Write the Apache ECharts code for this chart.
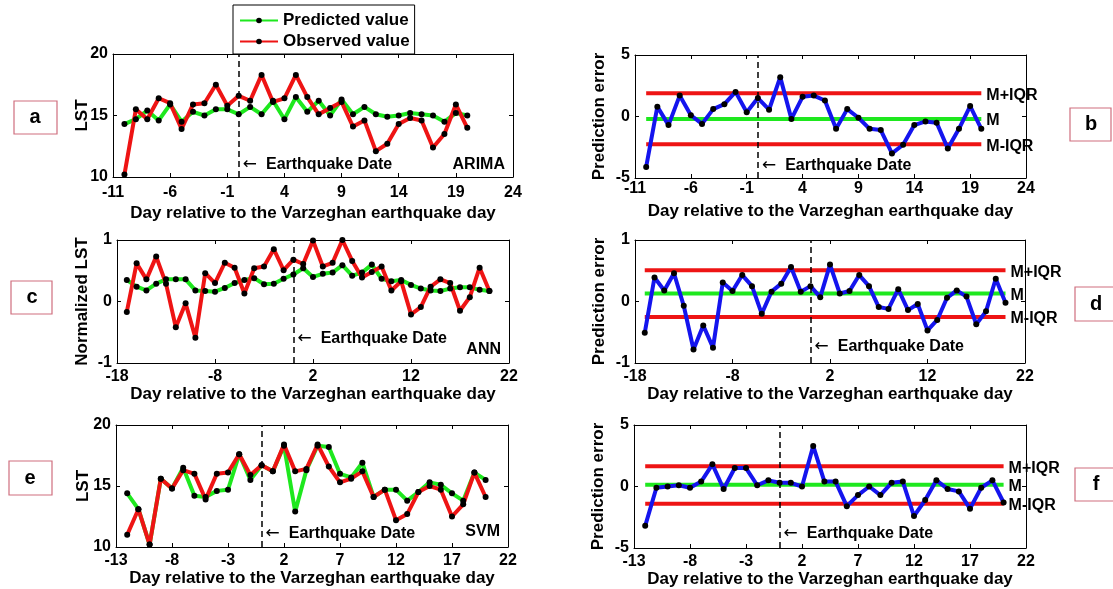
<!DOCTYPE html>
<html>
<head>
<meta charset="utf-8">
<title>LST prediction - Varzeghan earthquake</title>
<script src="https://cdn.jsdelivr.net/npm/echarts@6/dist/echarts.min.js"></script>
<style>
html,body{margin:0;padding:0;background:#fff;}
#echartor{width:1113px;height:589px;}
</style>
</head>
<body>
<div id="echartor"></div>
<script>
// ---- data ----
// a / b : ARIMA
var aDays = [-10,-9,-8,-7,-6,-5,-4,-3,-2,-1,0,1,2,3,4,5,6,7,8,9,10,11,12,13,14,15,16,17,18,19,20];
var aPred = [14.3,14.7,15.4,14.6,15.9,14.5,15.3,15.0,15.5,15.5,15.1,15.7,15.1,16.2,14.7,16.5,15.3,16.2,15.0,16.3,15.1,15.7,15.1,14.9,15.0,15.2,15.1,15.0,14.5,15.2,15.0];
var aObs  = [10.2,15.5,14.7,16.4,16.0,13.9,15.9,16.0,17.5,15.8,16.6,16.2,18.3,16.1,16.4,18.3,16.5,15.1,15.6,16.1,14.1,14.6,12.1,12.7,14.3,14.8,14.6,12.4,13.5,15.9,14.0];
var bErr  = [-4.1,0.8,-0.7,1.7,0.1,-0.6,0.6,1.0,2.0,0.35,1.5,0.55,3.2,-0.2,1.6,1.7,1.3,-1.0,0.6,-0.1,-1.0,-1.1,-3.0,-2.3,-0.7,-0.4,-0.5,-2.6,-1.0,0.85,-1.0];
var bBands = [1.9,-0.2,-2.25];   // M+IQR, M, M-IQR

// c / d : ANN
var cDays = [-17,-16,-15,-14,-13,-12,-11,-10,-9,-8,-7,-6,-5,-4,-3,-2,-1,0,1,2,3,4,5,6,7,8,9,10,11,12,13,14,15,16,17,18,19,20];
var cPred = [0.35,0.24,0.18,0.29,0.36,0.36,0.36,0.18,0.17,0.16,0.22,0.30,0.35,0.38,0.28,0.29,0.37,0.44,0.54,0.40,0.45,0.47,0.59,0.42,0.47,0.60,0.37,0.33,0.35,0.27,0.21,0.18,0.17,0.21,0.23,0.23,0.19,0.17];
var cObs  = [-0.17,0.62,0.36,0.73,0.29,-0.42,-0.03,-0.59,0.46,0.30,0.63,0.55,0.13,0.54,0.57,0.85,0.51,0.68,0.61,0.99,0.57,0.63,1.0,0.66,0.39,0.48,0.57,0.18,0.33,-0.21,-0.09,0.24,0.36,0.30,-0.15,0.07,0.55,0.17];
var dErr  = [-0.51,0.39,0.18,0.46,-0.07,-0.78,-0.39,-0.75,0.31,0.17,0.43,0.25,-0.2,0.16,0.29,0.56,0.16,0.25,0.07,0.6,0.13,0.17,0.43,0.25,-0.09,-0.12,0.2,-0.14,-0.04,-0.47,-0.3,0.06,0.18,0.08,-0.37,-0.16,0.37,-0.02];
var dBands = [0.51,0.13,-0.25];

// e / f : SVM
var eDays = [-12,-11,-10,-9,-8,-7,-6,-5,-4,-3,-2,-1,0,1,2,3,4,5,6,7,8,9,10,11,12,13,14,15,16,17,18,19,20];
var ePred = [14.4,13.1,10.2,15.6,14.8,16.5,14.2,14.1,14.6,14.7,17.6,15.5,16.7,16.2,18.3,12.9,16.3,18.3,18.2,16.0,15.7,16.9,14.1,14.7,14.7,13.8,14.5,15.3,15.1,14.4,13.8,16.1,15.5];
var eObs  = [11.0,13.1,10.2,15.6,14.8,16.3,16.0,13.9,16.0,16.1,17.6,15.9,16.7,16.2,18.4,16.2,16.4,18.4,16.6,15.3,15.6,16.2,14.1,14.7,12.2,12.7,14.5,15.0,14.7,12.5,13.5,16.1,14.1];
var fErr  = [-3.2,-0.1,0.0,0.1,-0.1,0.4,1.8,-0.2,1.5,1.5,0.1,0.5,0.3,0.3,0.0,3.3,0.4,0.4,-1.6,-0.7,0.0,-0.7,0.3,0.4,-2.4,-1.1,0.5,-0.2,-0.4,-1.8,-0.1,0.5,-1.3];
var fBands = [1.65,0.15,-1.4];

var bandNames = ['M+IQR','M','M-IQR'];
var eqDay = 0;
var xTitle = 'Day relative to the Varzeghan earthquake day';

// ---- layout ----
var FONT = "'Liberation Sans', Arial, sans-serif";
var GREEN = '#1ee81e', RED = '#ee1414', BLUE = '#1414ee';

var panels = [
    {box:[113,54,400,123], x:[-11,24,5], y:[10,20,5], yName:'LST',            yGap:22, xGap:28, lblM:8, tag:'a', model:'ARIMA', eqUp:12, modelUp:12},
    {box:[635,55,391,123], x:[-11,24,5], y:[-5,5,5],  yName:'Prediction error', yGap:27, xGap:25, lblM:3, tag:'b', eqUp:12},
    {box:[117,240,392,123], x:[-18,22,10], y:[-1,1,1], yName:'Normalized LST', yGap:26, xGap:23, lblM:6, tag:'c', model:'ANN', eqUp:24, modelUp:13},
    {box:[635,240,390,123], x:[-18,22,10], y:[-1,1,1], yName:'Prediction error', yGap:27, xGap:23, lblM:6, tag:'d', eqUp:16},
    {box:[116,425,392,122], x:[-13,22,5], y:[10,20,5], yName:'LST',            yGap:24, xGap:23, lblM:6, tag:'e', model:'SVM', eqUp:13, modelUp:15},
    {box:[634,425,392,123], x:[-13,22,5], y:[-5,5,5],  yName:'Prediction error', yGap:27, xGap:23, lblM:6, tag:'f', eqUp:14}
];
var tagBoxes = {a:[14,101,43,33], b:[1070,108,41,33], c:[11,281,41,33], d:[1075,287,45,34], e:[9,461,43,34], f:[1075,468,45,33]};

function pairs(days, vals){
    return days.map(function(d,i){ return [d, vals[i]]; });
}

var grids = [], xAxes = [], yAxes = [], xTop = [], yRight = [];
var tickFont = {color:'#000', fontSize:16, fontWeight:'bold', fontFamily:FONT};
var nameFont = {color:'#000', fontSize:17, fontWeight:'bold', fontFamily:FONT};
var axLine = {show:true, onZero:false, lineStyle:{color:'#000', width:1}};
var axTick = {show:true, inside:true, length:4, lineStyle:{color:'#000'}};

panels.forEach(function(p, i){
    grids.push({left:p.box[0], top:p.box[1], width:p.box[2], height:p.box[3], containLabel:false});
    xAxes.push({
        gridIndex:i, type:'value', min:p.x[0], max:p.x[1], interval:p.x[2],
        axisLine:axLine, axisTick:axTick, splitLine:{show:false},
        axisLabel:Object.assign({margin:p.lblM}, tickFont),
        name:xTitle, nameLocation:'middle', nameGap:p.xGap, nameTextStyle:nameFont
    });
    xTop.push({
        gridIndex:i, type:'value', position:'top', min:p.x[0], max:p.x[1], interval:p.x[2],
        axisLine:axLine, axisTick:axTick, splitLine:{show:false}, axisLabel:{show:false}
    });
    yAxes.push({
        gridIndex:i, type:'value', min:p.y[0], max:p.y[1], interval:p.y[2],
        axisLine:axLine, axisTick:axTick, splitLine:{show:false},
        axisLabel:Object.assign({margin:5}, tickFont),
        name:p.yName, nameLocation:'middle', nameGap:p.yGap, nameMoveOverlap:false, nameTextStyle:nameFont
    });
    yRight.push({
        gridIndex:i, type:'value', position:'right', min:p.y[0], max:p.y[1], interval:p.y[2],
        axisLine:axLine, axisTick:axTick, splitLine:{show:false}, axisLabel:{show:false}
    });
});

var eqLine = {
    silent:true, symbol:'none', label:{show:false},
    lineStyle:{color:'#000', type:[6,4], width:1.5},
    data:[{xAxis:eqDay}]
};

function dotLine(name, gi, days, vals, color){
    return {
        name:name, type:'line', xAxisIndex:gi, yAxisIndex:gi,
        data:pairs(days, vals),
        symbol:'circle', symbolSize:6, showSymbol:true,
        itemStyle:{color:'#000'},
        lineStyle:{color:color, width:4},
        z:3
    };
}

function modelSeries(gi, names, days, pred, obs){
    var s1 = dotLine(names[0], gi, days, pred, GREEN);
    s1.markLine = eqLine;
    var s2 = dotLine(names[1], gi, days, obs, RED);
    return [s1, s2];
}

function errorSeries(gi, days, err, bands){
    var out = [];
    var x0 = days[0], x1 = days[days.length-1];
    bands.forEach(function(v, k){
        out.push({
            name:bandNames[k]+gi, type:'line', xAxisIndex:gi, yAxisIndex:gi,
            data:[[x0, v],[x1, v]], showSymbol:false, symbol:'none',
            lineStyle:{color:k==1?GREEN:RED, width:4},
            endLabel:{show:true, formatter:bandNames[k], distance:5, offset:[0,2],
                color:'#000', fontSize:16, fontWeight:'bold', fontFamily:FONT},
            z:2
        });
    });
    var b = dotLine('error'+gi, gi, days, err, BLUE);
    b.markLine = eqLine;
    out.push(b);
    return out;
}

var series = [].concat(
    modelSeries(0, ['Predicted value','Observed value'], aDays, aPred, aObs),
    errorSeries(1, aDays, bErr, bBands),
    modelSeries(2, ['ANN predicted','ANN observed'], cDays, cPred, cObs),
    errorSeries(3, cDays, dErr, dBands),
    modelSeries(4, ['SVM predicted','SVM observed'], eDays, ePred, eObs),
    errorSeries(5, eDays, fErr, fBands)
);

var myChart = echarts.init(document.getElementById('echartor'), null, {renderer:'canvas'});
var options = {
    animation:false,
    backgroundColor:'#fff',
    textStyle:{fontFamily:FONT},
    legend:{
        data:['Predicted value','Observed value'],
        orient:'vertical', left:233, top:5,
        padding:[7,5,4,6], itemGap:4, itemWidth:38, itemHeight:7,
        borderColor:'#000', borderWidth:1, backgroundColor:'#fff',
        textStyle:{color:'#000', fontSize:17, fontWeight:'bold', fontFamily:FONT},
        selectedMode:false, z:10
    },
    grid:grids,
    xAxis:xAxes.concat(xTop),
    yAxis:yAxes.concat(yRight),
    series:series
};
myChart.setOption(options, true);

// annotations placed relative to each panel
var graphics = [];
panels.forEach(function(p, i){
    var px = myChart.convertToPixel({xAxisIndex:i}, eqDay);
    var bottom = p.box[1] + p.box[3];
    graphics.push({
        type:'text', left:px + 4, top:bottom - p.eqUp - 9,
        style:{
            text:'{a|←}{b|Earthquake Date}',
            rich:{
                a:{fontSize:17, fontWeight:'normal', fill:'#000', fontFamily:"'DejaVu Sans', sans-serif"},
                b:{fontSize:16, fontWeight:'bold', fill:'#000', fontFamily:FONT, padding:[0,0,0,9]}
            },
            fill:'#000'
        }
    });
    if (p.model) {
        graphics.push({
            type:'text', x:p.box[0] + p.box[2] - 8, y:bottom - p.modelUp,
            style:{text:p.model, fill:'#000', font:'bold 16px ' + FONT, textAlign:'right', textVerticalAlign:'middle'}
        });
    }
    var tb = tagBoxes[p.tag];
    graphics.push({
        type:'rect', shape:{x:tb[0], y:tb[1], width:tb[2], height:tb[3]},
        style:{fill:'#fff', stroke:'#cf6e7e', lineWidth:1.2}
    });
    graphics.push({
        type:'text', x:tb[0] + 21, y:tb[1] + tb[3]/2,
        style:{text:p.tag, fill:'#000', font:'bold 20px ' + FONT, textAlign:'center', textVerticalAlign:'middle'}
    });
});
myChart.setOption({graphic:graphics});
</script>
</body>
</html>
